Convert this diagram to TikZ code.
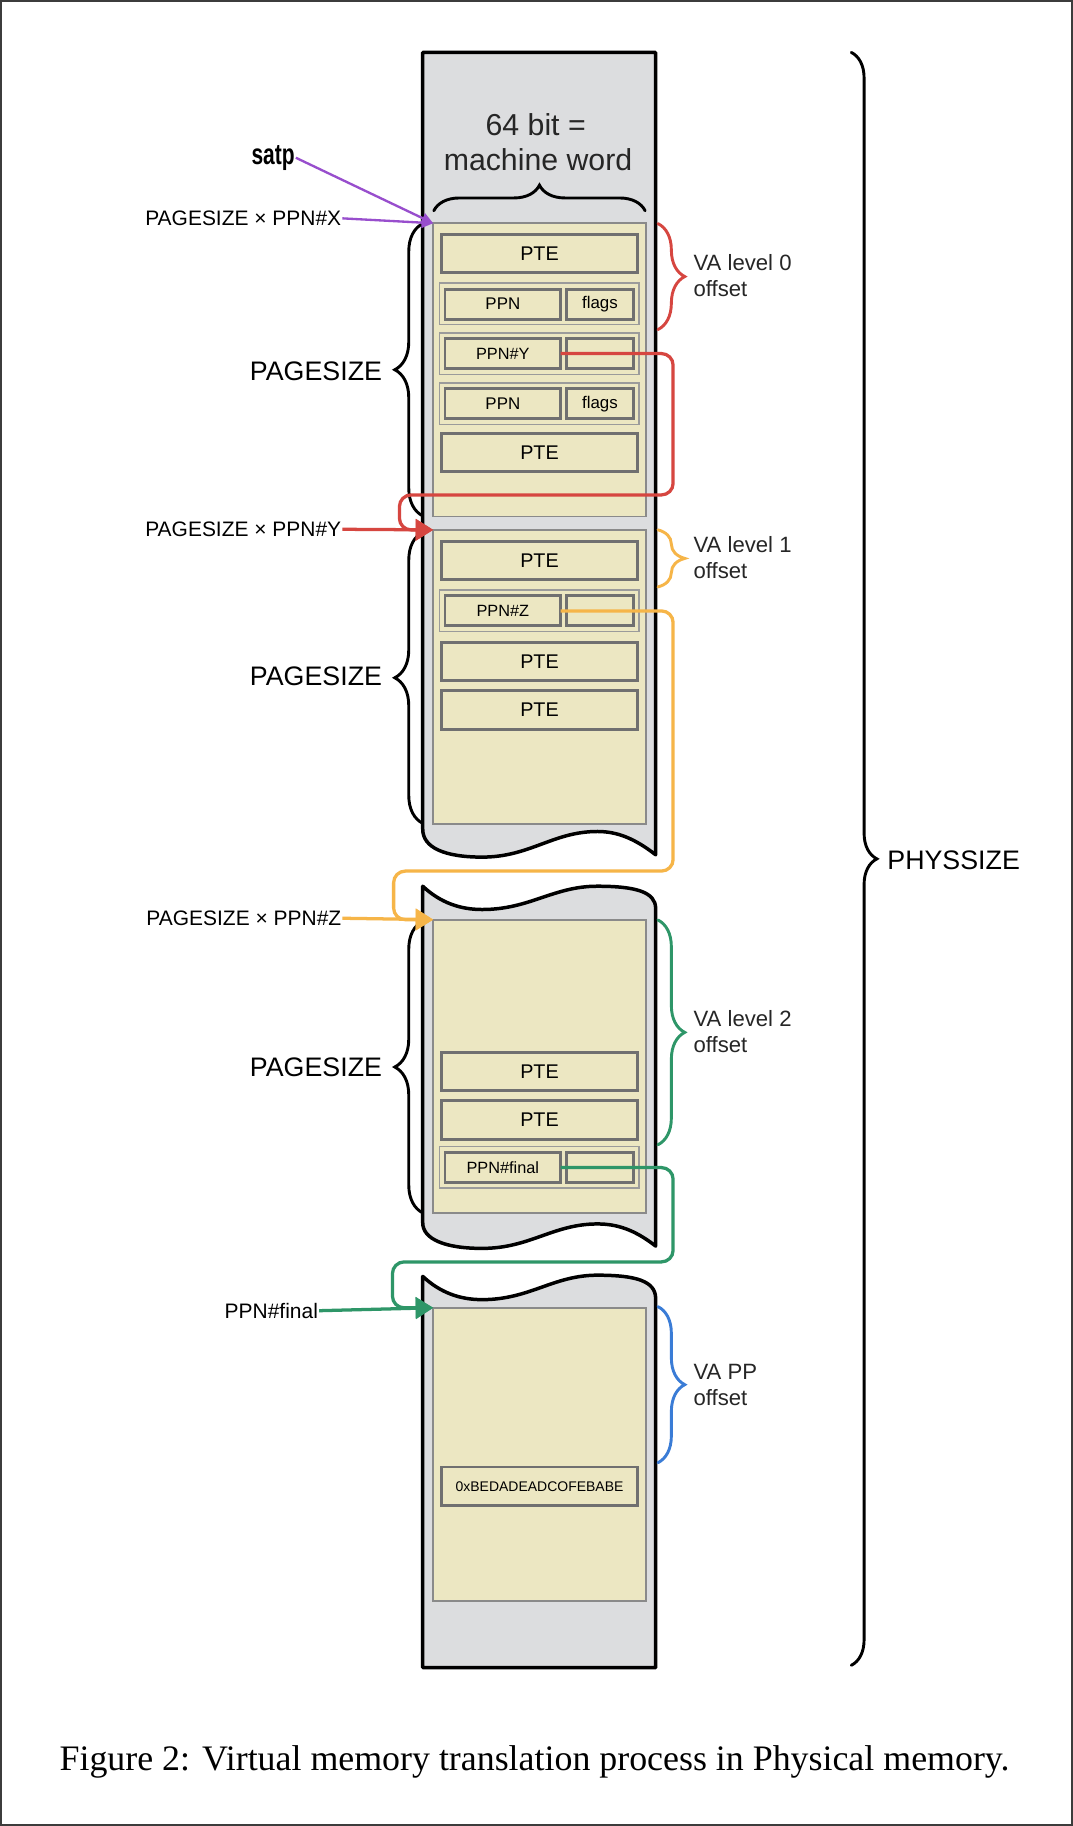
\documentclass[tikz,border=0pt]{standalone}
\usepackage{graphicx}
\usepackage{fontspec}
\setmainfont{Liberation Sans}
\newfontfamily\capfont{Liberation Serif}
\usetikzlibrary{arrows.meta,decorations.pathreplacing}
\definecolor{colgray}{RGB}{220,221,223}
\definecolor{beige}{RGB}{236,231,194}
\definecolor{pgborder}{RGB}{138,138,138}
\definecolor{entryb}{RGB}{112,112,112}
\definecolor{rowb}{RGB}{155,155,155}
\definecolor{cred}{RGB}{214,70,64}
\definecolor{corange}{RGB}{246,181,72}
\definecolor{cgreen}{RGB}{46,150,104}
\definecolor{cblue}{RGB}{58,124,214}
\definecolor{cpurple}{RGB}{152,78,205}
\definecolor{framec}{RGB}{60,60,60}
\begin{document}
\begin{tikzpicture}[x=1pt,y=-1pt,every node/.style={outer sep=0pt,inner sep=1pt},
  column/.style={fill=colgray,draw=black,line width=3pt,line join=round},
  page/.style={fill=beige,draw=pgborder,line width=1.5pt,inner sep=0pt,minimum width=182.6pt},
  entry/.style={draw=entryb,fill=beige,line width=2.5pt,inner sep=0pt},
  pte/.style={entry,minimum width=169pt,minimum height=33pt,font=\fontsize{17}{20}\selectfont},
  rowbox/.style={draw=rowb,fill=beige,line width=1.3pt,inner sep=0pt,minimum width=171pt,minimum height=35.7pt},
  ppnbox/.style={entry,minimum width=99.3pt,minimum height=25.8pt,font=\fontsize{14.5}{17}\selectfont},
  flagbox/.style={entry,minimum width=57.2pt,minimum height=25.8pt,font=\fontsize{14.5}{17}\selectfont},
  brc/.style={decorate,decoration={brace,amplitude=#1},line width=2.5pt,line cap=round},
  lbl/.style={font=\fontsize{18}{22}\selectfont,anchor=east},
  big/.style={font=\fontsize{23}{27}\selectfont},
  va/.style={font=\fontsize{19}{22}\selectfont,anchor=base west,text=black!85},
  conn/.style={line width=2.8pt,-{Triangle[length=15pt,width=18pt]}},
  purp/.style={cpurple,line width=2pt,-{Triangle[length=10pt,width=9pt]}}
]
\useasboundingbox (0,0) rectangle (921,1568);
\fill[white] (0,0) rectangle (921,1568);
\draw[framec,line width=1.5pt] (0.75,0.75) rectangle (920.25,1567.25);

% memory column sections
\draw[column] (363,45) -- (563,45) -- (563,734)
  .. controls (545,720) and (530,714) .. (513,714)
  .. controls (475,714) and (455,736) .. (414,736)
  .. controls (382,736) and (363,728) .. (363,712) -- cycle;
\draw[column] (363,761)
  .. controls (378,775) and (395,781) .. (414,781)
  .. controls (455,781) and (475,761) .. (513,761)
  .. controls (546,761) and (563,766) .. (563,780) -- (563,1070)
  .. controls (545,1056) and (530,1051) .. (513,1051)
  .. controls (475,1051) and (455,1072) .. (414,1072)
  .. controls (382,1072) and (363,1064) .. (363,1050) -- cycle;
\draw[column] (363,1096)
  .. controls (378,1110) and (395,1116) .. (414,1116)
  .. controls (455,1116) and (475,1095) .. (513,1095)
  .. controls (546,1095) and (563,1100) .. (563,1115) -- (563,1432) -- (363,1432) -- cycle;

% pages
\node[page,minimum height=251.8pt] (pX) at (463.3,317.6) {};
\node[page,minimum height=252.3pt] (pY) at (463.3,581.15) {};
\node[page,minimum height=251.8pt] (pZ) at (463.3,915.6) {};
\node[page,minimum height=251.8pt] (pF) at (463.3,1248.9) {};

% page X entries
\node[pte] (x1) at (463.3,217.8) {PTE};
\node[rowbox] (x2) at (463,261) {};
\node[ppnbox] (x2p) at (431.8,261.2) {PPN};
\node[flagbox] (x2f) at (515.2,261.2) {flags};
\node[rowbox] (x3) at (463,303.6) {};
\node[ppnbox,font=\fontsize{14}{17}\selectfont] (x3p) at (431.8,303.6) {PPN\#Y};
\node[flagbox] (x3f) at (515.2,303.6) {};
\node[rowbox] (x4) at (463,346.6) {};
\node[ppnbox] (x4p) at (431.8,346.8) {PPN};
\node[flagbox] (x4f) at (515.2,346.8) {flags};
\node[pte] (x5) at (463.3,388.7) {PTE};

% page Y entries
\node[pte] (y1) at (463.3,481.4) {PTE};
\node[rowbox] (y2) at (463,524.6) {};
\node[ppnbox,font=\fontsize{14}{17}\selectfont] (y2p) at (431.8,524.6) {PPN\#Z};
\node[flagbox] (y2f) at (515.2,524.6) {};
\node[pte] (y3) at (463.3,568.1) {PTE};
\node[pte] (y4) at (463.3,609.6) {PTE};

% page Z entries
\node[pte] (z1) at (463.3,920.1) {PTE};
\node[pte] (z2) at (463.3,961.8) {PTE};
\node[rowbox] (z3) at (463,1002.3) {};
\node[ppnbox,font=\fontsize{14}{17}\selectfont] (z3p) at (431.8,1002.6) {PPN\#final};
\node[flagbox] (z3f) at (515.2,1002.6) {};

% final page entry
\node[pte,font=\fontsize{12}{14}\selectfont] (hex) at (463.3,1276.2) {0xBEDADEADCOFEBABE};

% top text and brace
\node[font=\fontsize{26}{30}\selectfont,anchor=base,text=black!85] (w1) at (460,116) {64 bit =};
\node[font=\fontsize{26}{30}\selectfont,anchor=base,text=black!85] (w2) at (462,146) {machine word};
\draw[brc=22] (372.5,181) -- (554,181);

% left braces and labels
\draw[brc=24] (363,443) -- (363,192);
\draw[brc=24] (363,707) -- (363,457);
\draw[brc=24] (363,1041.5) -- (363,791);
\node[big,anchor=base east] (ps1) at (329,327) {PAGESIZE};
\node[big,anchor=base east] (ps2) at (329,589) {PAGESIZE};
\node[big,anchor=base east] (ps3) at (329,924) {PAGESIZE};

% right coloured braces and labels
\draw[brc=23,cred] (565,192) -- (565,283);
\draw[brc=23,corange] (565,455) -- (565,504);
\draw[brc=23,cgreen] (565,790) -- (565,983);
\draw[brc=23,cblue] (565,1122) -- (565,1256);
\node[va] (v0a) at (594.6,232.6) {VA level 0};
\node[va] (v0b) at (594.6,254.6) {offset};
\node[va] (v1a) at (594.6,474.6) {VA level 1};
\node[va] (v1b) at (594.6,496.6) {offset};
\node[va] (v2a) at (594.6,881.6) {VA level 2};
\node[va] (v2b) at (594.6,903.6) {offset};
\node[va] (v3a) at (594.6,1184.5) {VA PP};
\node[va] (v3b) at (594.6,1206.6) {offset};

% physsize brace
\draw[brc=22] (731,45) -- (731,1430);
\node[big,anchor=base west] (phys) at (761,746.5) {PHYSSIZE};

% left labels
\node[font=\bfseries\fontsize{25}{28}\selectfont,anchor=base] (satp) at (234.5,141) {\scalebox{0.72}[1]{satp}};
\node[lbl] (lX) at (294,187.5) {PAGESIZE × PPN\#X};
\node[lbl] (lY) at (294,454.5) {PAGESIZE × PPN\#Y};
\node[lbl] (lZ) at (294,788.5) {PAGESIZE × PPN\#Z};
\node[lbl] (lF) at (274,1125.5) {PPN\#final};

% connectors
\draw[purp] (satp.east) -- (pX.north west);
\draw[purp] (lX.east) -- (pX.north west);

\draw[conn,cred,rounded corners=10pt] (x3p.east) -- (578,303.6) -- (578,425) -- (343,425) -- (343,455) -- (pY.north west);
\draw[conn,cred] (lY.east) -- (pY.north west);

\draw[conn,corange,rounded corners=10pt] (y2p.east) -- (578,524.6) -- (578,748) -- (338,748) -- (338,789.7) -- (pZ.north west);
\draw[conn,corange] (lZ.east) -- (pZ.north west);

\draw[conn,cgreen,rounded corners=10pt] (z3p.east) -- (578,1002.6) -- (578,1083.6) -- (337,1083.6) -- (337,1123) -- (pF.north west);
\draw[conn,cgreen] (lF.east) -- (pF.north west);

% caption
\node[font=\capfont\fontsize{30.8}{34}\selectfont,anchor=base] (cap) at (459,1520) {Figure 2: Virtual memory translation process in Physical memory.};
\end{tikzpicture}
\end{document}
